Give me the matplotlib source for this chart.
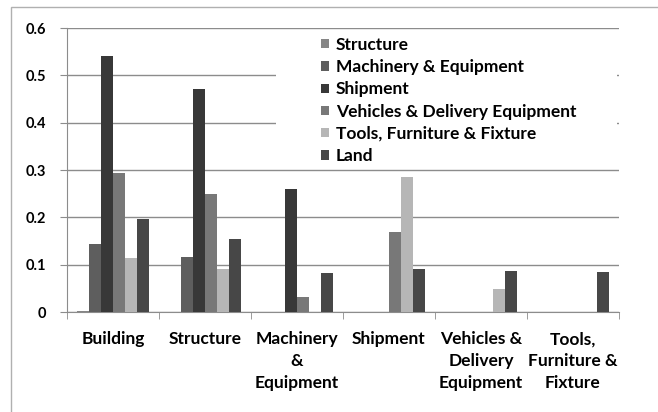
import matplotlib
matplotlib.use("Agg")
from matplotlib import pyplot as plt
from matplotlib.patches import Rectangle
import numpy as np

plt.rcParams['font.family'] = ['Lato', 'DejaVu Sans']
plt.rcParams['font.weight'] = 'bold'

# categories on the x axis
categories = ['Building', 'Structure', 'Machinery\n&\nEquipment', 'Shipment',
              'Vehicles &\nDelivery\nEquipment', 'Tools,\nFurniture &\nFixture']

# one series per asset type (values per category)
series_names = ['Structure', 'Machinery & Equipment', 'Shipment',
                'Vehicles & Delivery Equipment', 'Tools, Furniture & Fixture', 'Land']
structure = [0.002, 0.0, 0.0, 0.0, 0.0, 0.0]
machinery = [0.143, 0.116, 0.0, 0.0, 0.0, 0.0]
shipment = [0.541, 0.471, 0.260, 0.0, 0.0, 0.0]
vehicles = [0.293, 0.249, 0.032, 0.168, 0.0, 0.0]
tools = [0.115, 0.091, 0.0, 0.285, 0.048, 0.0]
land = [0.196, 0.154, 0.082, 0.091, 0.086, 0.085]

ytick_vals = [0, 0.1, 0.2, 0.3, 0.4, 0.5, 0.6]
ytick_labels = ['0', '0.1', '0.2', '0.3', '0.4', '0.5', '0.6']

colors = ['#868686', '#5e5e5e', '#383838', '#787878', '#b6b6b6', '#474747']

fig = plt.figure(figsize=(6.58, 4.12), dpi=100)
# outer chart frame
fig.patches.append(Rectangle((11 / 658, -0.1), 1.0, 1 - 7 / 412 + 0.1,
                             transform=fig.transFigure, fill=False,
                             edgecolor='#b0b0b0', linewidth=1))
ax = fig.add_axes([67 / 658, 1 - 312 / 412, (619 - 67) / 658, (312 - 28) / 412])

all_series = [structure, machinery, shipment, vehicles, tools, land]
x = np.arange(len(categories))
w = 0.13
for j, vals in enumerate(all_series):
    ax.bar(x + (j - 2.5) * w, vals, width=w, color=colors[j],
           label=series_names[j], zorder=3)

ax.set_xlim(-0.5, len(categories) - 0.5)
ax.set_ylim(0, 0.6)
ax.set_yticks(ytick_vals)
ax.set_yticklabels(ytick_labels, fontsize=10.5)
ax.set_xticks(x)
ax.set_xticklabels(categories, fontsize=12.5, linespacing=1.45)
ax.set_xticks(np.arange(len(categories) + 1) - 0.5, minor=True)
ax.tick_params(axis='x', which='major', length=0, pad=14)
ax.tick_params(axis='x', which='minor', length=5, color='#8c8c8c')
ax.tick_params(axis='y', length=5, color='#8c8c8c', pad=10)

ax.yaxis.grid(True, color='#8c8c8c', linewidth=1, zorder=0)
ax.set_axisbelow(True)
for s in ['top', 'right']:
    ax.spines[s].set_visible(False)
for s in ['left', 'bottom']:
    ax.spines[s].set_color('#8c8c8c')

# white area behind the legend
ax.add_patch(Rectangle(((276 - 67) / 552, (312 - 168) / 284), (617 - 276) / 552,
                       (168 - 30) / 284, transform=ax.transAxes,
                       facecolor='white', edgecolor='none', zorder=4))

leg = ax.legend(loc='upper left', bbox_to_anchor=((314 - 67) / 552, (312 - 30) / 284),
                frameon=False, fontsize=12.5, handlelength=0.46, handleheight=0.46,
                handletextpad=0.4, labelspacing=0.36, borderaxespad=0)
leg.set_zorder(5)

fig.savefig('out.png', dpi=100)
